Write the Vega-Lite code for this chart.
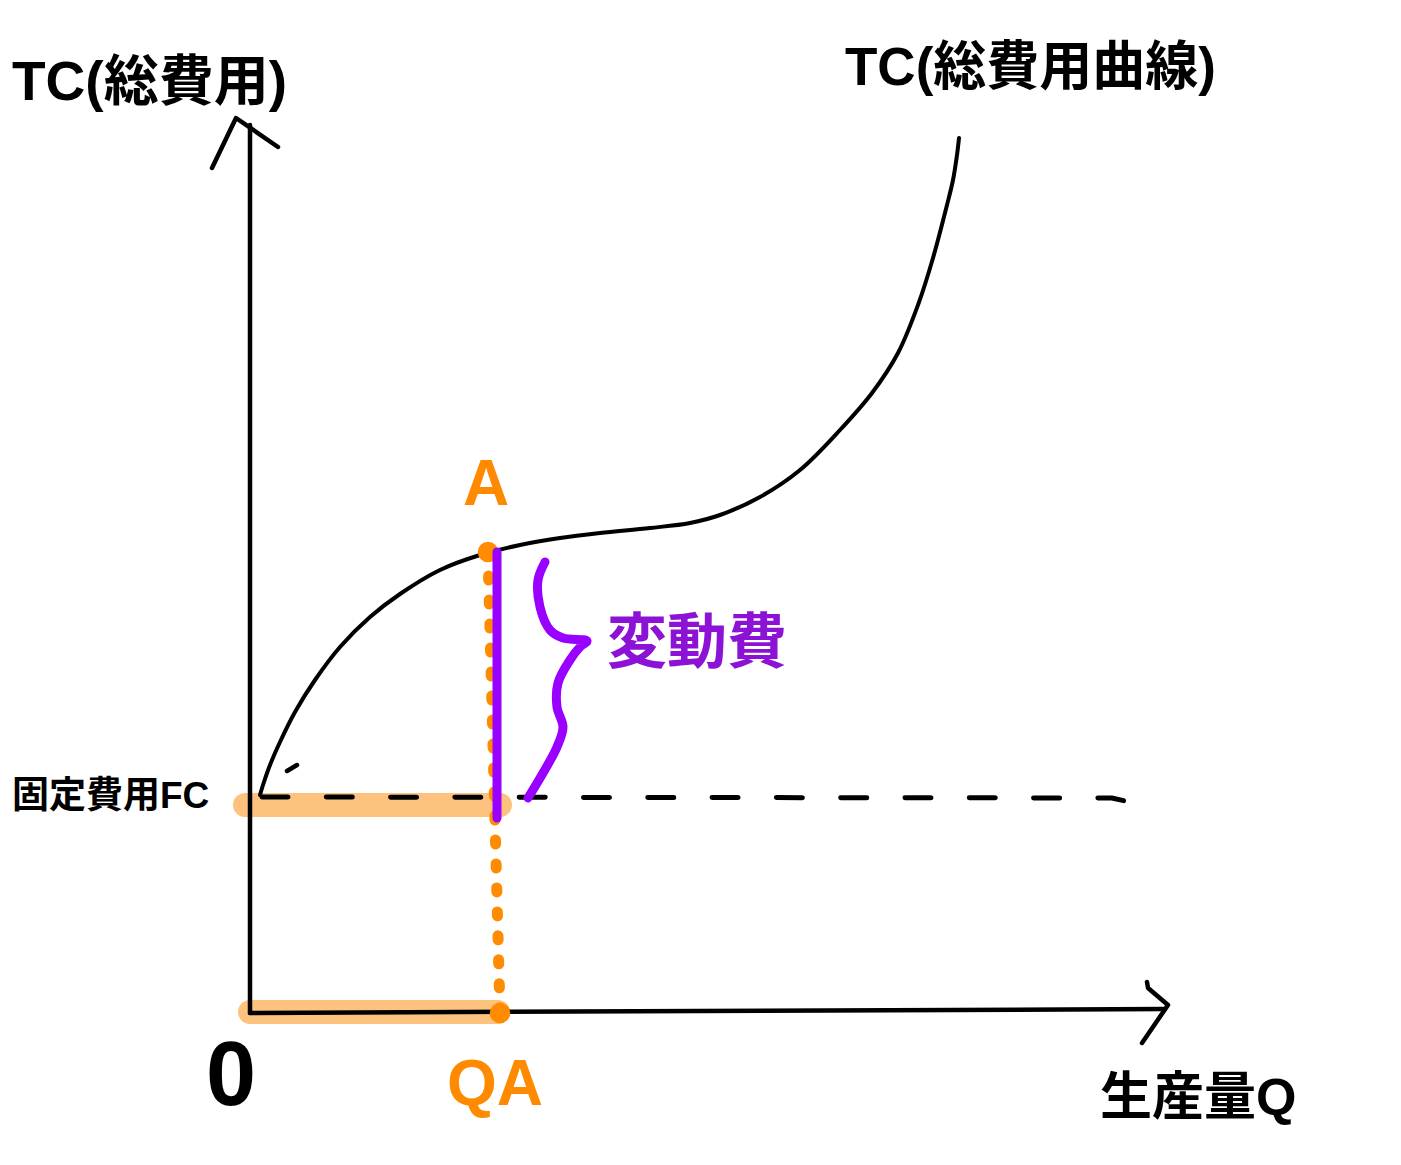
{
  "$schema": "https://vega.github.io/schema/vega-lite/v6.json",
  "width": 1401,
  "height": 1165,
  "padding": 0,
  "autosize": {"type": "fit", "contains": "padding"},
  "background": "white",
  "config": {"view": {"stroke": null}},
  "datasets": {
    "strokes": [
      {"s": "hl1", "i": 0, "q": -5, "tc": 208},
      {"s": "hl1", "i": 1, "q": 250, "tc": 208},
      {"s": "hl2", "i": 0, "q": 0, "tc": 1},
      {"s": "hl2", "i": 1, "q": 248, "tc": 1},
      {"s": "fc", "i": 0, "q": 12, "tc": 216},
      {"s": "fc", "i": 1, "q": 862, "tc": 215},
      {"s": "fc", "i": 2, "q": 875, "tc": 212},
      {"s": "yaxis", "i": 0, "q": 0, "tc": 0},
      {"s": "yaxis", "i": 1, "q": 0, "tc": 888},
      {"s": "yarrow", "i": 0, "q": -38, "tc": 845},
      {"s": "yarrow", "i": 1, "q": -14, "tc": 895},
      {"s": "yarrow", "i": 2, "q": 28, "tc": 866},
      {"s": "xaxis", "i": 0, "q": 0, "tc": 0},
      {"s": "xaxis", "i": 1, "q": 915, "tc": 4},
      {"s": "xarrow", "i": 0, "q": 897, "tc": 31},
      {"s": "xarrow", "i": 1, "q": 898, "tc": 25},
      {"s": "xarrow", "i": 2, "q": 918, "tc": 8},
      {"s": "xarrow", "i": 3, "q": 892, "tc": -30},
      {"s": "tick", "i": 0, "q": 37, "tc": 242},
      {"s": "tick", "i": 1, "q": 47, "tc": 248},
      {"s": "tc", "i": 0, "q": 10, "tc": 218},
      {"s": "tc", "i": 1, "q": 13, "tc": 228},
      {"s": "tc", "i": 2, "q": 20, "tc": 248},
      {"s": "tc", "i": 3, "q": 30, "tc": 271},
      {"s": "tc", "i": 4, "q": 45, "tc": 301},
      {"s": "tc", "i": 5, "q": 65, "tc": 333},
      {"s": "tc", "i": 6, "q": 90, "tc": 366},
      {"s": "tc", "i": 7, "q": 120, "tc": 396},
      {"s": "tc", "i": 8, "q": 150, "tc": 419},
      {"s": "tc", "i": 9, "q": 190, "tc": 443},
      {"s": "tc", "i": 10, "q": 230, "tc": 458},
      {"s": "tc", "i": 11, "q": 270, "tc": 468},
      {"s": "tc", "i": 12, "q": 310, "tc": 475},
      {"s": "tc", "i": 13, "q": 350, "tc": 480},
      {"s": "tc", "i": 14, "q": 400, "tc": 485},
      {"s": "tc", "i": 15, "q": 440, "tc": 490},
      {"s": "tc", "i": 16, "q": 470, "tc": 498},
      {"s": "tc", "i": 17, "q": 510, "tc": 516},
      {"s": "tc", "i": 18, "q": 550, "tc": 543},
      {"s": "tc", "i": 19, "q": 590, "tc": 583},
      {"s": "tc", "i": 20, "q": 622, "tc": 620},
      {"s": "tc", "i": 21, "q": 648, "tc": 660},
      {"s": "tc", "i": 22, "q": 668, "tc": 708},
      {"s": "tc", "i": 23, "q": 683, "tc": 755},
      {"s": "tc", "i": 24, "q": 697, "tc": 808},
      {"s": "tc", "i": 25, "q": 703, "tc": 833},
      {"s": "tc", "i": 26, "q": 707, "tc": 858},
      {"s": "tc", "i": 27, "q": 709, "tc": 875},
      {"s": "dots", "i": 0, "q": 238, "tc": 461},
      {"s": "dots", "i": 1, "q": 250, "tc": 0},
      {"s": "vc", "i": 0, "q": 247, "tc": 461},
      {"s": "vc", "i": 1, "q": 247, "tc": 195},
      {"s": "brace", "i": 0, "q": 295, "tc": 451},
      {"s": "brace", "i": 1, "q": 288, "tc": 433},
      {"s": "brace", "i": 2, "q": 290, "tc": 406},
      {"s": "brace", "i": 3, "q": 300, "tc": 383},
      {"s": "brace", "i": 4, "q": 313, "tc": 375},
      {"s": "brace", "i": 5, "q": 337, "tc": 372},
      {"s": "brace", "i": 6, "q": 330, "tc": 366},
      {"s": "brace", "i": 7, "q": 320, "tc": 353},
      {"s": "brace", "i": 8, "q": 308, "tc": 330},
      {"s": "brace", "i": 9, "q": 307, "tc": 306},
      {"s": "brace", "i": 10, "q": 313, "tc": 286},
      {"s": "brace", "i": 11, "q": 307, "tc": 266},
      {"s": "brace", "i": 12, "q": 293, "tc": 240},
      {"s": "brace", "i": 13, "q": 278, "tc": 215}
    ],
    "points": [
      {"p": "A", "q": 238, "tc": 461},
      {"p": "QA", "q": 250, "tc": 0}
    ],
    "labels": [
      {"k": "axis", "q": -238, "tc": 913, "t": "TC(総費用)", "s": 55},
      {"k": "axis", "q": 595, "tc": 928, "t": "TC(総費用曲線)", "s": 53}
    ]
  },
  "encoding": {
    "x": {"type": "quantitative", "scale": {"domain": [-250, 1151], "nice": false, "zero": false}, "axis": null},
    "y": {"type": "quantitative", "scale": {"domain": [-152, 1013], "nice": false, "zero": false}, "axis": null}
  },
  "layer": [
    {
      "data": {"name": "strokes"},
      "transform": [{"filter": "datum.s === 'hl1' || datum.s === 'hl2'"}],
      "mark": {"type": "line", "color": "#fec27f", "strokeWidth": 24, "strokeCap": "round"},
      "encoding": {"x": {"field": "q"}, "y": {"field": "tc"}, "detail": {"field": "s"}, "order": {"field": "i"}}
    },
    {
      "data": {"name": "strokes"},
      "transform": [{"filter": "datum.s === 'fc'"}],
      "mark": {"type": "line", "color": "black", "strokeWidth": 5, "strokeCap": "round", "strokeDash": [26, 38.3]},
      "encoding": {"x": {"field": "q"}, "y": {"field": "tc"}, "order": {"field": "i"}}
    },
    {
      "data": {"name": "strokes"},
      "transform": [{"filter": "datum.s === 'yaxis' || datum.s === 'yarrow' || datum.s === 'xaxis' || datum.s === 'xarrow' || datum.s === 'tick'"}],
      "mark": {"type": "line", "color": "black", "strokeWidth": 4.5, "strokeCap": "round", "strokeJoin": "round"},
      "encoding": {"x": {"field": "q"}, "y": {"field": "tc"}, "detail": {"field": "s"}, "order": {"field": "i"}}
    },
    {
      "data": {"name": "strokes"},
      "transform": [{"filter": "datum.s === 'tc'"}],
      "mark": {"type": "line", "color": "black", "strokeWidth": 4, "strokeCap": "round", "interpolate": "catmull-rom"},
      "encoding": {"x": {"field": "q"}, "y": {"field": "tc"}, "order": {"field": "i"}}
    },
    {
      "data": {"name": "strokes"},
      "transform": [{"filter": "datum.s === 'dots'"}],
      "mark": {"type": "line", "color": "#ff8c00", "strokeWidth": 11, "strokeCap": "round", "strokeDash": [4, 20]},
      "encoding": {"x": {"field": "q"}, "y": {"field": "tc"}, "order": {"field": "i"}}
    },
    {
      "data": {"name": "points"},
      "mark": {"type": "circle", "color": "#ff8c00", "opacity": 1, "size": 420},
      "encoding": {"x": {"field": "q"}, "y": {"field": "tc"}}
    },
    {
      "data": {"name": "strokes"},
      "transform": [{"filter": "datum.s === 'vc'"}],
      "mark": {"type": "line", "color": "#9a00ff", "strokeWidth": 9, "strokeCap": "round"},
      "encoding": {"x": {"field": "q"}, "y": {"field": "tc"}, "order": {"field": "i"}}
    },
    {
      "data": {"name": "strokes"},
      "transform": [{"filter": "datum.s === 'brace'"}],
      "mark": {"type": "line", "color": "#9a00ff", "strokeWidth": 9, "strokeCap": "round", "strokeJoin": "round", "interpolate": "catmull-rom"},
      "encoding": {"x": {"field": "q"}, "y": {"field": "tc"}, "order": {"field": "i"}}
    },
    {
      "data": {"name": "labels"},
      "transform": [{"filter": "datum.s === 55"}],
      "mark": {"type": "text", "align": "left", "baseline": "alphabetic", "font": "Liberation Sans, Noto Sans CJK JP", "fontWeight": "bold", "fontSize": 55, "color": "black"},
      "encoding": {"x": {"field": "q"}, "y": {"field": "tc"}, "text": {"field": "t"}}
    },
    {
      "data": {"name": "labels"},
      "transform": [{"filter": "datum.s === 53"}],
      "mark": {"type": "text", "align": "left", "baseline": "alphabetic", "font": "Liberation Sans, Noto Sans CJK JP", "fontWeight": "bold", "fontSize": 53, "color": "black"},
      "encoding": {"x": {"field": "q"}, "y": {"field": "tc"}, "text": {"field": "t"}}
    },
    {
      "data": {"values": [{"q": -238, "tc": 216, "t": "固定費用FC"}]},
      "mark": {"type": "text", "align": "left", "baseline": "middle", "font": "Liberation Sans, Noto Sans CJK JP", "fontWeight": "bold", "fontSize": 37, "color": "black"},
      "encoding": {"x": {"field": "q"}, "y": {"field": "tc"}, "text": {"field": "t"}}
    },
    {
      "data": {"values": [{"q": -19, "tc": -92, "t": "0"}]},
      "mark": {"type": "text", "align": "center", "baseline": "alphabetic", "font": "Liberation Sans", "fontWeight": "bold", "fontSize": 90, "color": "black"},
      "encoding": {"x": {"field": "q"}, "y": {"field": "tc"}, "text": {"field": "t"}}
    },
    {
      "data": {"values": [{"q": 850, "tc": -102, "t": "生産量Q"}]},
      "mark": {"type": "text", "align": "left", "baseline": "alphabetic", "font": "Liberation Sans, Noto Sans CJK JP", "fontWeight": "bold", "fontSize": 52, "color": "black"},
      "encoding": {"x": {"field": "q"}, "y": {"field": "tc"}, "text": {"field": "t"}}
    },
    {
      "data": {"values": [{"q": 245, "tc": -92, "t": "QA"}, {"q": 236, "tc": 508, "t": "A"}]},
      "mark": {"type": "text", "align": "center", "baseline": "alphabetic", "font": "Liberation Sans", "fontWeight": "bold", "fontSize": 64, "color": "#ff8a00"},
      "encoding": {"x": {"field": "q"}, "y": {"field": "tc"}, "text": {"field": "t"}}
    },
    {
      "data": {"values": [{"q": 357, "tc": 368, "t": "変動費"}]},
      "mark": {"type": "text", "align": "left", "baseline": "middle", "font": "Noto Sans CJK JP", "fontWeight": "bold", "fontSize": 60, "color": "#8c12d6"},
      "encoding": {"x": {"field": "q"}, "y": {"field": "tc"}, "text": {"field": "t"}}
    }
  ]
}
